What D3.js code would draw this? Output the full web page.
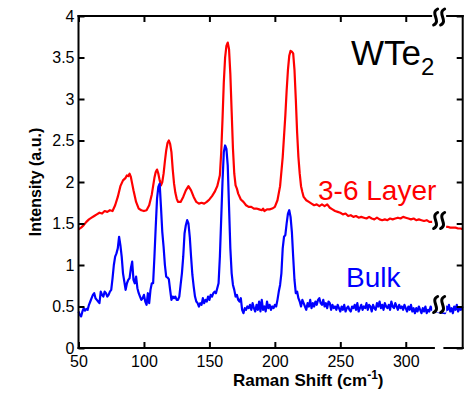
<!DOCTYPE html>
<html><head><meta charset="utf-8">
<script src="https://cdnjs.cloudflare.com/ajax/libs/d3/7.8.5/d3.min.js"></script>
<style>
html,body{margin:0;padding:0;background:#fff;}
svg{display:block;font-family:"Liberation Sans",Arial,sans-serif;}
</style></head>
<body><svg id="c" width="472" height="398"></svg>
<script>
// ---------- data ----------
const xTicks = [50, 100, 150, 200, 250, 300];
const xTickLabels = ["50", "100", "150", "200", "250", "300"];
const yTicks = [0, 0.5, 1, 1.5, 2, 2.5, 3, 3.5, 4];
const yTickLabels = ["0", "0.5", "1", "1.5", "2", "2.5", "3", "3.5", "4"];

const layerShift = [50,52,54,56,58,60,62,64,66,68,70,72,74,76,78,80,82,84,86,87,88,89,90,91,92,94,96,98,100,102,104,106,108,109,110,111,112,113,114,115,116,117,118,119,120,121,122,123,124,125,126,128,130,132,134,136,138,140,142,144,146,148,150,152,154,156,158,159,160,161,162,163,164,165,166,167,168,169,170,171,172,174,176,178,180,182,184,186,188,190,191,192,194,196,198,200,202,204,206,208,209,210,211,212,213,214,215,216,217,218,219,220,221,222,224,226,228,230,232,234,236,238,240,242,244,246,248,250,252,254,256,258,260,262,264,266,268,270,272,274,276,278,280,282,284,286,288,290,292,294,296,298,300,302,304,306,308,310,312,314,316,318,320,322,330,332,334,336,338,340,342,343.5];
const layerIntensity = [1.43,1.45,1.48,1.52,1.55,1.57,1.59,1.61,1.63,1.62,1.65,1.64,1.66,1.65,1.72,1.82,1.95,2.02,2.05,2.08,2.07,2.10,2.06,1.98,1.90,1.76,1.68,1.66,1.65,1.66,1.72,1.85,2.05,2.12,2.15,2.10,2.02,1.96,2.00,2.10,2.25,2.38,2.47,2.50,2.46,2.36,2.15,1.98,1.87,1.80,1.76,1.76,1.82,1.90,1.95,1.90,1.82,1.76,1.74,1.75,1.74,1.76,1.79,1.83,1.88,1.95,2.08,2.35,2.75,3.20,3.50,3.64,3.68,3.60,3.30,2.85,2.40,2.10,1.96,1.92,1.86,1.79,1.76,1.72,1.70,1.70,1.68,1.68,1.67,1.66,1.68,1.65,1.67,1.67,1.68,1.70,1.78,1.95,2.30,2.80,3.10,3.35,3.52,3.58,3.57,3.55,3.35,3.00,2.60,2.30,2.10,1.95,1.88,1.82,1.78,1.76,1.74,1.72,1.73,1.71,1.73,1.71,1.73,1.69,1.67,1.65,1.64,1.63,1.61,1.62,1.59,1.60,1.58,1.59,1.57,1.58,1.57,1.56,1.58,1.56,1.55,1.57,1.55,1.54,1.55,1.54,1.56,1.55,1.56,1.57,1.56,1.58,1.57,1.56,1.55,1.56,1.54,1.55,1.54,1.53,1.54,1.52,1.52,1.51,1.46,1.46,1.45,1.45,1.45,1.44,1.44,1.43];

const bulkShift = [50,51,52,53,54,55,56,57,58,59,60,61,62,63,64,65,66,67,68,69,70,71,72,73,74,75,76,77,78,79,80,81,82,83,84,85,86,87,88,89,90,91,92,93,94,95,96,97,98,99,100,101,102,103,104,105,106,107,108,109,110,111,112,113,114,115,116,117,118,119,120,121,122,123,124,125,126,127,128,129,130,131,132,133,134,135,136,137,138,139,140,141,142,143,144,145,146,147,148,149,150,151,152,153,154,155,156,157,158,159,160,161,162,163,164,165,166,167,168,169,170,171,172,173,174,175,176,177,178,179,180,181,182,183,184,185,186,187,188,189,190,191,192,193,194,195,196,197,198,199,200,201,202,203,204,205,206,207,208,209,210,211,212,213,214,215,216,217,218,219,220,221,222,223,224,225,226,227,228,229,230,231,232,233,234,235,236,237,238,239,240,241,242,243,244,245,246,247,248,249,250,251,252,253,254,255,256,257,258,259,260,261,262,263,264,265,266,267,268,269,270,271,272,273,274,275,276,277,278,279,280,281,282,283,284,285,286,287,288,289,290,291,292,293,294,295,296,297,298,299,300,301,302,303,304,305,306,307,308,309,310,311,312,313,314,315,316,317,318,319,320,321,322,330,331,332,333,334,335,336,337,338,339,340,341,342,343.5];
const bulkIntensity = [0.44,0.40,0.38,0.44,0.48,0.45,0.47,0.46,0.52,0.56,0.60,0.64,0.66,0.60,0.58,0.56,0.54,0.68,0.64,0.62,0.68,0.66,0.62,0.64,0.68,0.70,0.84,1.00,1.10,1.14,1.20,1.34,1.24,1.10,0.90,0.80,0.70,0.78,0.82,0.84,0.96,1.04,0.82,0.78,0.86,0.72,0.66,0.62,0.58,0.60,0.64,0.56,0.52,0.66,0.54,0.70,0.78,0.78,1.10,1.46,1.80,1.94,1.98,1.70,1.40,1.22,1.00,0.86,0.85,0.83,0.70,0.58,0.62,0.60,0.62,0.58,0.58,0.62,0.76,0.90,1.10,1.38,1.48,1.54,1.50,1.34,1.10,0.88,0.74,0.62,0.56,0.54,0.50,0.54,0.52,0.60,0.54,0.58,0.56,0.62,0.58,0.64,0.62,0.66,0.68,0.66,0.72,0.78,1.10,1.55,2.00,2.36,2.44,2.40,2.20,1.70,1.20,0.90,0.76,0.70,0.62,0.64,0.58,0.56,0.60,0.46,0.42,0.48,0.46,0.50,0.48,0.52,0.46,0.54,0.48,0.44,0.52,0.46,0.56,0.44,0.58,0.46,0.50,0.44,0.56,0.48,0.52,0.46,0.50,0.48,0.52,0.50,0.58,0.68,0.76,0.90,1.20,1.34,1.36,1.50,1.62,1.66,1.58,1.40,1.10,0.82,0.66,0.68,0.60,0.56,0.50,0.58,0.54,0.50,0.46,0.54,0.50,0.58,0.48,0.54,0.50,0.56,0.52,0.58,0.60,0.54,0.52,0.58,0.50,0.54,0.48,0.56,0.54,0.46,0.52,0.48,0.50,0.46,0.52,0.48,0.44,0.50,0.46,0.52,0.44,0.48,0.50,0.46,0.44,0.50,0.48,0.52,0.46,0.54,0.44,0.48,0.52,0.46,0.50,0.48,0.54,0.46,0.52,0.50,0.44,0.52,0.48,0.46,0.54,0.50,0.56,0.48,0.52,0.46,0.54,0.50,0.48,0.52,0.46,0.56,0.50,0.48,0.54,0.50,0.46,0.52,0.48,0.50,0.46,0.52,0.48,0.44,0.50,0.46,0.52,0.44,0.48,0.42,0.48,0.44,0.50,0.46,0.42,0.48,0.44,0.50,0.42,0.46,0.44,0.50,0.46,0.48,0.44,0.42,0.50,0.46,0.52,0.44,0.48,0.42,0.50,0.46,0.52,0.44,0.48,0.46,0.50];

const xDomain = [50, 343.5];
const xBreak = [321.5, 329.5];
const yDomain = [0, 4];
const breakLevels = [4, 1.5, 0.5];

// ---------- chart ----------
const svg = d3.select("#c");
const L = 78.5, R = 462.7, T = 16, B = 348;
const x = d3.scaleLinear().domain(xDomain).range([L, R]);
const y = d3.scaleLinear().domain(yDomain).range([B, T]);

const line = d3.line().x(d => x(d[0])).y(d => y(d[1]));
const redData = layerShift.map((s, i) => [s, layerIntensity[i]]);
const blueData = bulkShift.map((s, i) => [s, bulkIntensity[i]]);

svg.append("path").datum(redData).attr("d", line)
  .attr("fill", "none").attr("stroke", "#ff0000").attr("stroke-width", 2.2).attr("stroke-linejoin", "round");
svg.append("path").datum(blueData).attr("d", line)
  .attr("fill", "none").attr("stroke", "#0000ff").attr("stroke-width", 2.2).attr("stroke-linejoin", "round");

// axes (ticks inward)
const fmtX = d => xTickLabels[xTicks.indexOf(d)];
const fmtY = d => yTickLabels[yTicks.indexOf(d)];
const gB = svg.append("g").attr("transform", `translate(0,${B})`)
  .call(d3.axisBottom(x).tickValues(xTicks).tickFormat(fmtX).tickSize(-6).tickPadding(8));
const gT = svg.append("g").attr("transform", `translate(0,${T})`)
  .call(d3.axisTop(x).tickValues(xTicks).tickFormat("").tickSize(-6));
const gL = svg.append("g").attr("transform", `translate(${L},0)`)
  .call(d3.axisLeft(y).tickValues(yTicks).tickFormat(fmtY).tickSize(-6).tickPadding(4));
const gR = svg.append("g").attr("transform", `translate(${R},0)`)
  .call(d3.axisRight(y).tickValues(yTicks).tickFormat("").tickSize(-6));
[gB, gT, gL, gR].forEach(g => {
  g.select(".domain").remove();
  g.selectAll(".tick line").attr("stroke", "#000").attr("stroke-width", 2);
  g.selectAll("text").attr("fill", "#000").style("font-size", "16px")
    .style("font-family", '"Liberation Sans", Arial, sans-serif');
});

// spines
const sp = svg.append("g").attr("stroke", "#000").attr("stroke-width", 2).attr("stroke-linecap", "square");
sp.append("line").attr("x1", L).attr("x2", L).attr("y1", T).attr("y2", B);
sp.append("line").attr("x1", R).attr("x2", R).attr("y1", T).attr("y2", B);
sp.append("line").attr("x1", L).attr("x2", R).attr("y1", T).attr("y2", T);
sp.append("line").attr("x1", L).attr("x2", x(xBreak[0])).attr("y1", B).attr("y2", B);
sp.append("line").attr("x1", x(xBreak[1])).attr("x2", R).attr("y1", B).attr("y2", B);

// break symbols
const bx = (x(xBreak[0]) + x(xBreak[1])) / 2;
breakLevels.forEach(lv => {
  const cy = y(lv) + (lv === 4 ? 1 : (lv === 1.5 ? -3 : -2));
  const g = svg.append("g");
  g.append("rect").attr("x", bx - 7).attr("y", cy - 8).attr("width", 14).attr("height", 16).attr("fill", "#fff");
  [-3.5, 3.5].forEach(dx => {
    const cx = bx + dx;
    g.append("path")
      .attr("d", `M${cx + 2},${cy - 8} C${cx - 6},${cy - 4} ${cx + 6},${cy + 4} ${cx - 2},${cy + 8}`)
      .attr("fill", "none").attr("stroke", "#000").attr("stroke-width", 3).attr("stroke-linecap", "round");
  });
});

// labels
const wt = svg.append("text").attr("x", 351).attr("y", 65).attr("fill", "#000").style("font-size", "35px");
wt.append("tspan").text("WTe");
wt.append("tspan").attr("dy", 10).style("font-size", "24px").text("2");

svg.append("text").attr("x", 318).attr("y", 200).attr("fill", "#ff0000").style("font-size", "28px").text("3-6 Layer");
svg.append("text").attr("x", 346).attr("y", 287).attr("fill", "#0000ff").style("font-size", "28px").text("Bulk");

svg.append("text").attr("transform", "translate(41,182) rotate(-90)").attr("text-anchor", "middle")
  .style("font-size", "16px").style("font-weight", "bold").text("Intensity (a.u.)");

const xl = svg.append("text").attr("x", 233).attr("y", 386).style("font-size", "17px").style("font-weight", "bold");
xl.append("tspan").text("Raman Shift (cm");
xl.append("tspan").attr("dy", -7).style("font-size", "12px").text("-1");
xl.append("tspan").attr("dy", 7).text(")");
</script></body></html>
